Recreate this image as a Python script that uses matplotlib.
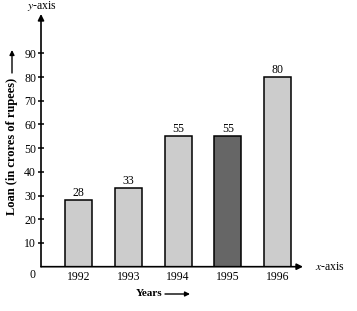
import matplotlib
matplotlib.use('Agg')
import matplotlib.pyplot as plt

plt.rcParams['font.family'] = ['Liberation Serif', 'DejaVu Serif']
plt.rcParams['mathtext.fontset'] = 'stix'

# data
years = ['1992', '1993', '1994', '1995', '1996']
loans = [28, 33, 55, 55, 80]
colors = ['#cccccc', '#cccccc', '#cccccc', '#666666', '#cccccc']
yticks = [10, 20, 30, 40, 50, 60, 70, 80, 90]

W, H = 357, 311
fig = plt.figure(figsize=(W / 100, H / 100), dpi=100)
ax = fig.add_axes([41 / W, 1 - 266.7 / H, 262 / W, 252.7 / H])
ax.set_xlim(-0.754, 4.51)
ax.set_ylim(0, 106.6)
for s in ax.spines.values():
    s.set_visible(False)

x = list(range(len(years)))
ax.bar(x, loans, width=0.54, color=colors, edgecolor='black', linewidth=1.1, zorder=2)
for xi, v in zip(x, loans):
    ax.text(xi, v + 0.6, str(v), ha='center', va='bottom', fontsize=8.5)

arrow = dict(arrowstyle='-|>', color='black', lw=1.2, mutation_scale=9,
             shrinkA=0, shrinkB=0)
# axes with arrows
ax.annotate('', xy=(-0.754, 106.6), xytext=(-0.754, 0), arrowprops=arrow,
            annotation_clip=False)
ax.annotate('', xy=(4.51, 0), xytext=(-0.754, 0), arrowprops=arrow,
            annotation_clip=False)

ax.set_yticks(yticks)
ax.set_yticklabels([str(t) for t in yticks], fontsize=8.5)
ax.tick_params(axis='y', direction='inout', length=5, width=1.1, pad=1)
ax.set_xticks(x)
ax.set_xticklabels(years, fontsize=8.5)
ax.tick_params(axis='x', length=0, pad=3)

ax.text(-0.86, -0.8, '0', ha='right', va='top', fontsize=8.5)
ax.text(4.75, 0, '$x$-axis', ha='left', va='center', fontsize=8.5)
fig.text(42 / W, 1 - 6 / H, '$y$-axis', ha='center', va='center', fontsize=8.5)

# axis titles with long arrows
small = dict(arrowstyle='-|>', color='black', lw=1.0, mutation_scale=7,
             shrinkA=0, shrinkB=0)
fig.text(136 / W, 1 - 294 / H, 'Years', ha='left', va='center',
         fontsize=8, fontweight='bold')
fig.add_artist(plt.Annotation('', xy=(190 / W, 1 - 294 / H), xytext=(165 / W, 1 - 294 / H),
                              xycoords='figure fraction', arrowprops=small))
fig.text(12 / W, 1 - 146 / H, 'Loan (in crores of rupees)', rotation=90,
         ha='center', va='center', fontsize=9, fontweight='bold')
fig.add_artist(plt.Annotation('', xy=(12 / W, 1 - 50 / H), xytext=(12 / W, 1 - 73 / H),
                              xycoords='figure fraction', arrowprops=small))

fig.savefig('out.png', dpi=100)
